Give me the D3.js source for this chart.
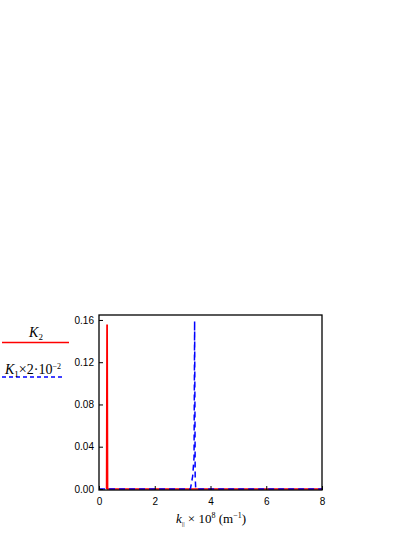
<!DOCTYPE html>
<html>
<head>
<meta charset="utf-8">
<title>K1 K2 vs k</title>
<style>
body { margin: 0; background: #fff; }
svg { display: block; }
.tick text { font-family: 'Liberation Sans', Arial, sans-serif; font-size: 10px; fill: #000; }
.tick line { stroke: #000; stroke-width: 1; }
.domain { display: none; }
.lbl { font-family: 'Liberation Serif', 'Times New Roman', serif; fill: #000; }
</style>
</head>
<body>
<svg></svg>
<script src="https://d3js.org/d3.v7.min.js"></script>
<script>
// data
const k2X = [0.27, 0.285, 0.295, 0.31, 8];
const k2Y = [0, 0.155, 0.155, 0, 0];
const k1X = [0, 3.28, 3.36, 3.41, 3.43, 3.45, 3.47, 8];
const k1Y = [0, 0, 0.012, 0.03, 0.159, 0.012, 0, 0];
const xTicks = [0, 2, 4, 6, 8];
const yTicks = [0, 0.04, 0.08, 0.12, 0.16];

const W = 415, H = 537;
const margin = { top: 315, right: 93, bottom: 47, left: 99 };

const svg = d3.select('svg').attr('width', W).attr('height', H);

const x = d3.scaleLinear([0, 8], [margin.left, W - margin.right]);
const y = d3.scaleLinear([-0.001, 0.1647], [H - margin.bottom, margin.top]);

const k2 = k2X.map((d, i) => [d, k2Y[i]]);
const k1 = k1X.map((d, i) => [d, k1Y[i]]);
const line = d3.line().x(d => x(d[0])).y(d => y(d[1]));

svg.append('path')
   .attr('fill', 'none')
   .attr('stroke', '#ff0000')
   .attr('stroke-width', 1.5)
   .attr('d', line(k2));

svg.append('path')
   .attr('fill', 'none')
   .attr('stroke', '#0000ff')
   .attr('stroke-width', 1.5)
   .attr('stroke-dasharray', '6,4')
   .attr('d', line(k1));

// axes, ticks pointing inward
svg.append('g')
   .attr('transform', `translate(0,${H - margin.bottom})`)
   .call(d3.axisBottom(x).tickValues(xTicks).tickFormat(d3.format('d')).tickSizeInner(-4).tickSizeOuter(0).tickPadding(8));

svg.append('g')
   .attr('transform', `translate(${margin.left},0)`)
   .call(d3.axisLeft(y).tickValues(yTicks).tickFormat(d3.format('.2f')).tickSizeInner(-4).tickSizeOuter(0).tickPadding(5));

svg.append('rect')
   .attr('x', margin.left).attr('y', margin.top)
   .attr('width', W - margin.right - margin.left)
   .attr('height', H - margin.bottom - margin.top)
   .attr('fill', 'none')
   .attr('stroke', '#000')
   .attr('stroke-width', 1.3);

// x label
const xl = svg.append('text').attr('class', 'lbl')
   .attr('x', 211).attr('y', 523)
   .attr('text-anchor', 'middle')
   .style('font-size', '13px');
xl.append('tspan').style('font-style', 'italic').text('k');
xl.append('tspan').attr('dy', 3).style('font-size', '7px').text('||');
xl.append('tspan').attr('dy', -3).text(' \u00d7 10');
xl.append('tspan').attr('dy', -5).style('font-size', '8px').text('8');
xl.append('tspan').attr('dy', 5).text('  (m');
xl.append('tspan').attr('dy', -5).style('font-size', '8px').text('\u22121');
xl.append('tspan').attr('dy', 5).text(')');

// legend
svg.append('line')
   .attr('x1', 2).attr('x2', 69).attr('y1', 342.5).attr('y2', 342.5)
   .attr('stroke', '#ff0000').attr('stroke-width', 1.5);
const l1 = svg.append('text').attr('class', 'lbl')
   .attr('x', 36).attr('y', 337).attr('text-anchor', 'middle')
   .style('font-size', '14px');
l1.append('tspan').style('font-style', 'italic').text('K');
l1.append('tspan').attr('dy', 3).style('font-size', '9px').text('2');

svg.append('line')
   .attr('x1', 2).attr('x2', 65).attr('y1', 377).attr('y2', 377)
   .attr('stroke', '#0000ff').attr('stroke-width', 1.5)
   .attr('stroke-dasharray', '4,3');
const l2 = svg.append('text').attr('class', 'lbl')
   .attr('x', 5).attr('y', 374)
   .style('font-size', '14px');
l2.append('tspan').style('font-style', 'italic').text('K');
l2.append('tspan').attr('dy', 3).style('font-size', '9px').text('1');
l2.append('tspan').attr('dy', -3).text('\u00d72\u00b710');
l2.append('tspan').attr('dy', -5).style('font-size', '8px').text('\u22122');
</script>
</body>
</html>
